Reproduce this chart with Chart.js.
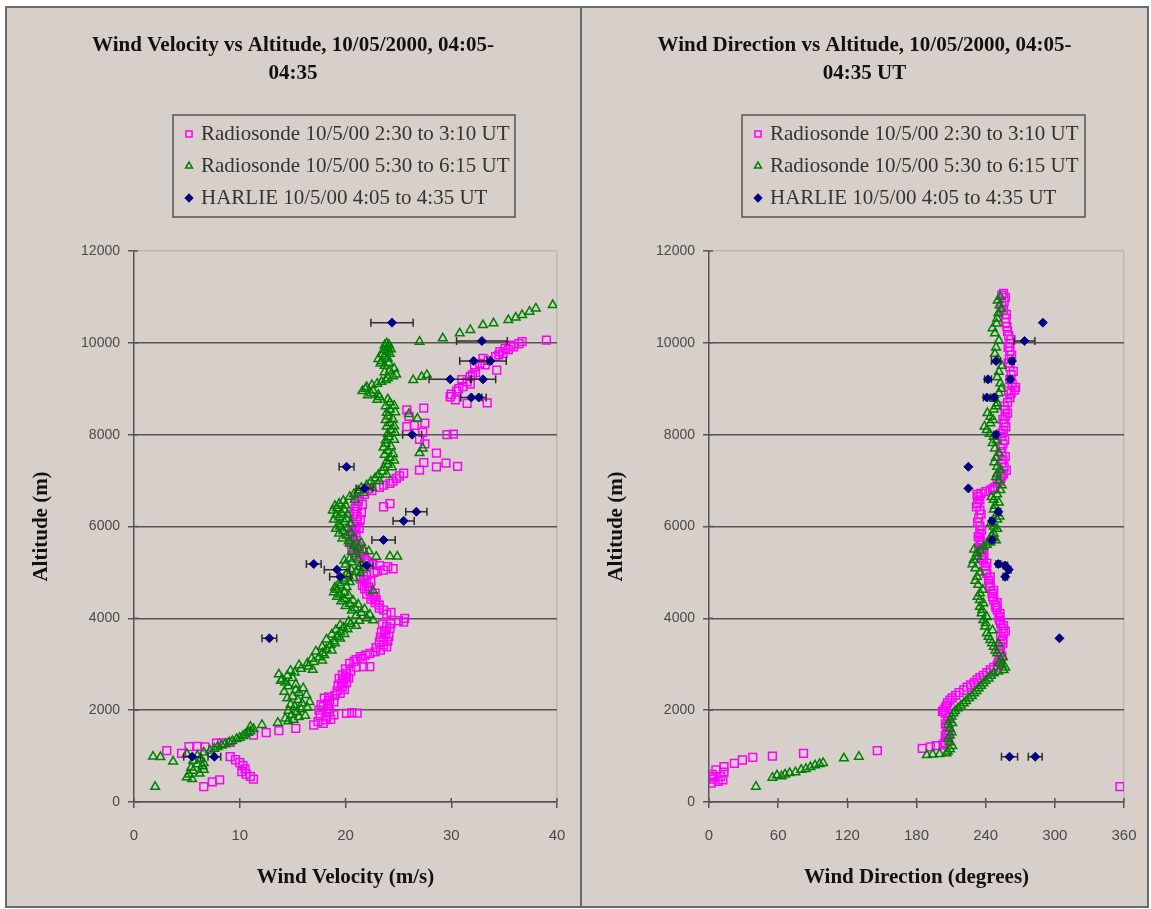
<!DOCTYPE html>
<html>
<head>
<meta charset="utf-8">
<script src="https://cdn.jsdelivr.net/npm/chart.js@4.4.0/dist/chart.umd.min.js"></script>
<style>
  body { margin: 0; background: #fff; width: 1151px; height: 909px; position: relative; overflow: hidden; }
  #frame { position: absolute; left: 5px; top: 6px; width: 1140px; height: 898px; border: 2px solid #6a6a6a; background: #d7d0ca; }
  #divider { position: absolute; left: 580px; top: 6px; width: 2px; height: 902px; background: #6a6a6a; }
  canvas { position: absolute; }
  #velChart { left: 7px; top: 8px; }
  #dirChart { left: 582px; top: 8px; }
</style>
</head>
<body>
<div id="frame"></div>
<div id="divider"></div>
<canvas id="velChart" width="572" height="897"></canvas>
<canvas id="dirChart" width="565" height="897"></canvas>
<script>
// Radiosonde 10/5/00 2:30 to 3:10 UT
const sondeAVelAlt = [333, 440, 480, 500, 560, 610, 660, 720, 790, 860, 920, 986, 1060, 1117, 1200, 1205, 1210, 1280, 1290, 1300,
  1459, 1510, 1553, 1604, 1677, 1713, 1790, 1850, 1930, 1935, 1960, 2076, 2150, 2221, 2290, 2367, 2500, 2580, 2657, 2730,
  2800, 2947, 2950, 3020, 3100, 3164, 3238, 3310, 3420, 3527, 3650, 3740, 3817, 3920, 4000, 4090, 4181, 4290, 4399, 4472,
  4600, 4680, 4763, 4840, 4908, 5050, 5080, 5125, 5180, 5250, 5350, 5420, 5488, 5600, 5730, 5851, 5930, 6000, 6100, 6214,
  6330, 6430, 6435, 6500, 6550, 6650, 6780, 6850, 6940, 7050, 7160, 7230, 7300, 7310, 7380, 7390, 7600, 7800, 7900, 8000,
  8010, 8050, 8173, 8200, 8250, 8400, 8537, 8580, 8683, 8690, 8826, 8950, 9045, 9150, 9262, 9350, 9408, 9480, 9553, 9620,
  9700, 9770, 9850, 9915, 9980, 10024, 10061,
  1750, 1800, 1880, 1900, 1945, 2000, 2030, 2120, 2180, 2260, 2320, 2420, 2450, 2540, 2600, 2690, 2700, 2770, 2850, 2900,
  2940, 3060, 3120, 3200, 3270, 3360, 3380, 3480, 3500, 3590, 3600, 3700, 3780, 3870, 3880, 3950, 4130, 4220, 4340, 4420,
  4530, 4550, 4640, 4720, 4800, 4860, 4950, 5000, 5030, 5150, 5210, 5300, 5380, 5450, 5530, 5560, 5650, 5700, 5790, 5800,
  5900, 5960, 6050, 6150, 6270, 6300, 6390, 6480, 6600, 6700, 6820, 6900, 6990, 7100,
  8760, 8880, 9000, 9100, 9200, 9300, 9520, 9660, 9740, 9810, 9880, 9950];
const sondeAVel = [6.6, 7.4, 8.1, 11.3, 11.0, 10.6, 10.2, 10.5, 10.3, 10.0, 9.6, 9.1, 4.5, 3.1, 6.7, 5.2, 6.0, 7.8, 8.3, 9.1,
  11.3, 12.5, 13.7, 15.3, 17.0, 17.9, 18.1, 18.2, 20.1, 21.1, 18.5, 17.9, 18.3, 18.5, 18.4, 19.5, 19.7, 19.6, 19.8, 20.0,
  20.1, 21.7, 22.3, 20.4, 21.0, 21.4, 22.3, 23.3, 23.6, 23.6, 23.8, 23.7, 23.9, 25.5, 25.6, 23.9, 23.6, 23.2, 22.9, 22.6,
  22.3, 22.2, 22.0, 21.8, 21.7, 23.6, 24.5, 24.0, 22.6, 22.0, 21.4, 21.3, 21.1, 20.9, 20.7, 20.7, 20.9, 21.0, 21.1, 21.1,
  21.0, 23.6, 21.1, 24.2, 21.2, 21.3, 22.5, 23.2, 24.2, 24.8, 25.5, 27.0, 28.6, 30.6, 29.5, 27.4, 28.6, 27.5, 27.0, 29.6,
  30.2, 27.3, 25.8, 26.5, 27.5, 26.0, 25.8, 27.4, 31.5, 33.4, 29.9, 30.5, 31.1, 31.5, 31.8, 32.3, 34.3, 32.2, 32.7, 33.5,
  34.2, 34.9, 35.4, 35.9, 36.4, 36.7, 39.0,
  17.4, 18.6, 17.6, 18.9, 20.6, 17.5, 18.4, 17.7, 18.9, 18.0, 19.0, 19.2, 19.9, 19.3, 20.1, 19.4, 20.3, 19.7, 20.5, 20.0,
  21.0, 20.8, 21.6, 21.9, 22.8, 22.9, 23.9, 23.2, 24.0, 23.3, 24.1, 23.4, 24.2, 23.5, 24.3, 25.0, 24.3, 23.2, 22.8, 22.4,
  22.0, 22.8, 21.8, 21.6, 22.4, 21.4, 22.0, 22.7, 23.0, 23.2, 22.2, 21.8, 20.9, 21.6, 20.6, 21.2, 20.5, 21.0, 20.4, 21.0,
  20.6, 21.3, 20.7, 21.4, 20.8, 21.5, 20.9, 21.6, 20.9, 21.8, 22.1, 23.6, 24.5, 25.1,
  30.4, 30.0, 30.7, 31.8, 31.0, 32.0, 33.2, 33.0, 34.5, 34.6, 35.1, 35.6];
const sondeADirAlt = [333, 410, 450, 480, 500, 550, 560, 600, 650, 700, 769, 842, 915, 973, 1000, 1060, 1117, 1168, 1200, 1230,
  1240, 1300, 1400, 1500, 1640, 1780, 1930, 2003, 2100, 2221, 2320, 2439, 2550, 2657, 2760, 2875, 2983, 3100, 3250, 3382,
  3530, 3673, 3780, 3890, 4030, 4181, 4290, 4399, 4545, 4690, 4830, 4980, 5130, 5270, 5380, 5488, 5600, 5706, 5850, 6000,
  6180, 6359, 6500, 6650, 6722, 6790, 6850, 6940, 7050, 7150, 7300, 7450, 7600, 7800, 7955, 8100, 8250, 8400, 8537, 8700,
  8900, 8972, 9100, 9300, 9480, 9650, 9820, 9990, 10150, 10350, 10530, 10714, 10900, 11078,
  1270, 1350, 1450, 1550, 1700, 1850, 1970, 2050, 2160, 2270, 2380, 2500, 2600, 2710, 2820, 2930, 3040, 3170, 3320, 3460,
  3600, 3720, 3840, 3960, 4100, 4240, 4340, 4470, 4610, 4760, 4900, 5050, 5200, 5330, 5430, 5540, 5650, 5780, 5920, 6090,
  6270, 6430, 6580, 6700, 6760, 6820, 6990, 7100, 7220, 7380, 7520, 7700, 7880, 8030, 8170, 8330, 8470, 8620, 8800, 8950,
  9030, 9200, 9380, 9560, 9730, 9900, 10070, 10250, 10440, 10620, 10800, 10990, 11040];
const sondeADir = [356.5, 2, 8, 12, 4, 2, 10, 3, 13, 6, 13, 22, 29, 38, 55, 82, 146, 185, 192, 197,
  203, 205, 206, 206.5, 206, 207, 205, 203.6, 206, 209, 214, 221, 227, 232.5, 238, 244, 250, 252, 252.7, 253,
  254.5, 255.5, 254, 253, 251.5, 250, 248.5, 247, 245.5, 244, 242.5, 241, 239.5, 238, 237, 236.5, 235.5, 235, 235, 235,
  234, 235, 233, 234, 236, 244, 248, 250, 253, 255.5, 256, 255, 254, 255, 254, 255.5, 256, 257, 257, 259,
  262, 265, 263, 262, 261, 260.5, 261, 261, 260, 258.5, 257, 255.5, 256, 255.5,
  204, 207.5, 205, 208, 205, 208, 202.5, 205, 207, 211, 217, 224, 230, 235, 241, 247, 251, 254, 251.5, 255,
  253, 257, 255.5, 252, 252.5, 249, 250, 246, 247, 243, 244, 240, 241, 236.5, 238.5, 234, 237, 233.5, 236.5, 233,
  236, 232, 235, 232.5, 240, 246, 252, 254, 258, 254, 257, 253, 256.5, 253.5, 257.5, 255, 259, 256, 261, 260,
  266, 261, 264, 259.5, 262.5, 259.5, 262, 259, 257.5, 258, 254, 257, 254];

// Radiosonde 10/5/00 5:30 to 6:15 UT
const sondeBVelAlt = [330, 500, 540, 600, 680, 700, 780, 850, 880, 900, 980, 990, 1010, 1050, 1120, 1200, 1260, 1330, 1400, 1470,
  1540, 1640, 1677, 1727, 1760, 1790, 1850, 1900, 1960, 2020, 2080, 2150, 2220, 2300, 2380, 2440, 2520, 2600, 2680, 2750,
  2820, 2900, 2950, 3050, 3150, 3240, 3330, 3420, 3500, 3600, 3700, 3800, 3880, 3950, 3960, 4000, 4120, 4220, 4320, 4420,
  4520, 4600, 4620, 4720, 4820, 4920, 5020, 5120, 5220, 5300, 5342, 5350, 5345, 5400, 5490, 5580, 5680, 5800, 5900, 6000,
  6100, 6200, 6300, 6400, 6500, 6650, 6780, 6900, 7050, 7200, 7350, 7500, 7600, 7650, 7700, 7800, 7950, 8100, 8250, 8350,
  8400, 8450, 8550, 8700, 8820, 8900, 9000, 9080, 9150, 9190, 9230, 9260, 9300, 9310, 9400, 9500, 9600, 9700, 9800, 9900,
  9990, 10024, 10098, 10207, 10280, 10388, 10425, 10496, 10550, 10605, 10677, 10750, 10823,
  1160, 1230, 1300, 1370, 1440, 1510, 1590, 620, 750, 820, 940, 1080,
  1820, 1880, 1990, 2050, 2120, 2180, 2260, 2330, 2400, 2480, 2560, 2640, 2700, 2780, 2860, 2880, 2980, 3020, 3080, 3120,
  3200, 3280, 3300, 3380, 3460, 3540, 3560, 3650, 3660, 3750, 3760, 3850, 3840, 3930,
  4060, 4080, 4170, 4200, 4270, 4300, 4370, 4390, 4470, 4500, 4570, 4560, 4670, 4680, 4770, 4790, 4870, 4880, 4970, 4980,
  5070, 5090, 5170, 5190, 5260, 5280, 5450, 5460, 5540, 5630, 5640, 5740, 5750, 5850, 5860, 5950, 5960, 6050, 6060, 6150,
  6160, 6250, 6260, 6350, 6360, 6450, 6460, 6560, 6580, 6710, 6730, 6840, 6850, 6980, 6990, 7120, 7130, 7280, 7290, 7420,
  7440, 7560, 7580, 7720, 7740, 7880, 7890, 8020, 8040, 8180, 8190, 8320, 8330, 8480, 8490, 8620, 8630, 8760, 8770, 8860,
  8870, 8950, 8960, 9040, 9110, 9190, 9270, 9360, 9440, 9550, 9560, 9650, 9660, 9750, 9760, 9850, 9860, 9950, 9960];
const sondeBVel = [2.0, 5.5, 5.0, 5.2, 5.6, 6.6, 6.5, 6.6, 3.7, 5.6, 2.5, 1.8, 6.0, 5.0, 7.2, 7.9, 8.6, 9.3, 10.0, 10.5,
  11.0, 11.0, 12.1, 13.6, 14.6, 15.1, 15.6, 14.9, 15.4, 15.8, 15.2, 15.9, 15.5, 15.0, 15.6, 15.3, 14.6, 14.3, 14.0, 14.5,
  15.2, 15.8, 16.5, 17.0, 17.5, 17.8, 18.2, 18.6, 18.9, 19.2, 19.5, 19.8, 20.5, 21.3, 22.6, 22.0, 21.5, 20.9, 20.4, 19.9,
  19.5, 22.6, 19.2, 19.5, 19.9, 20.3, 21.0, 21.3, 20.6, 20.4, 22.9, 24.2, 24.9, 21.0, 21.7, 20.8, 20.3, 20.1, 19.8, 19.5,
  19.9, 19.4, 19.6, 19.2, 19.4, 20.4, 21.2, 22.0, 22.8, 23.5, 24.0, 24.2, 27.0, 24.0, 27.3, 23.8, 24.1, 24.3, 24.2, 26.8,
  24.0, 26.0, 24.2, 24.2, 23.2, 22.4, 21.9, 22.5, 23.4, 26.4, 24.0, 27.2, 27.7, 24.8, 24.2, 23.7, 23.4, 23.7, 23.9, 24.0,
  23.9, 27.0, 29.2, 30.8, 31.8, 33.0, 34.0, 35.4, 36.1, 36.7, 37.4, 38.0, 39.6,
  7.6, 8.3, 9.0, 9.7, 10.3, 10.8, 11.3, 6.2, 5.4, 6.0, 6.3, 6.6,
  14.3, 16.2, 14.6, 16.4, 14.8, 16.6, 14.5, 16.3, 14.2, 16.0, 15.3, 13.9, 15.0, 13.7, 14.8, 16.9, 15.6, 16.4, 17.8, 16.8,
  18.0, 17.2, 18.7, 17.8, 19.0, 18.2, 19.5, 18.7, 19.9, 19.1, 20.2, 19.5, 21.0, 20.3,
  21.0, 22.3, 20.6, 21.8, 20.0, 21.2, 19.6, 20.7, 19.2, 20.3, 18.9, 19.9, 19.0, 20.1, 19.4, 20.4, 19.8, 20.8, 20.1, 21.4,
  20.5, 21.8, 20.0, 21.5, 19.9, 21.2, 20.6, 22.2, 21.2, 20.4, 21.5, 19.7, 20.8, 19.4, 20.5, 19.1, 20.2, 19.4, 20.5, 18.9,
  20.1, 19.1, 20.2, 18.8, 19.9, 19.0, 20.0, 19.8, 20.9, 20.8, 21.7, 21.5, 22.5, 22.4, 23.2, 23.1, 23.9, 23.6, 24.4, 23.9,
  24.6, 23.7, 24.5, 23.6, 24.3, 23.8, 24.6, 24.0, 24.7, 23.9, 24.6, 23.8, 24.5, 23.9, 24.7, 23.8, 24.6, 23.0, 24.0, 22.1,
  23.1, 21.6, 22.6, 22.0, 23.0, 23.8, 24.5, 23.7, 24.6, 23.3, 24.1, 23.1, 24.0, 23.5, 24.2, 23.6, 24.3, 23.7, 24.1];
const sondeBDirAlt = [333, 530, 560, 580, 600, 630, 650, 700, 720, 760, 800, 830, 850, 951, 986, 1023, 1035, 1045, 1060, 1150,
  1300, 1450, 1600, 1786, 1860, 1931, 2040, 2149, 2260, 2367, 2475, 2584, 2690, 2802, 2875, 2980, 3092, 3240, 3382, 3530,
  3673, 3820, 3963, 4110, 4254, 4400, 4545, 4730, 4908, 5090, 5270, 5415, 5560, 5650, 5750, 5850, 6000, 6150, 6290, 6450,
  6580, 6700, 6795, 7000, 7150, 7302, 7500, 7700, 7955, 8101, 8250, 8392, 8550, 8683, 8900, 9118, 9370, 9626, 9900, 10207,
  10420, 10642, 10820, 11004,
  1100, 1220, 1380, 1520, 1690, 1720, 1980, 2100, 2200, 2310, 2420, 2530, 2640, 2750, 2840, 2930, 3030, 3160, 3300, 3450,
  3460, 3600, 3740, 3900, 4030, 4180, 4330, 4470, 4620, 4820, 5000, 5180, 5340, 5500, 5480, 5600, 5700, 5800, 5950, 6070,
  6220, 6370, 6520, 6640, 6900, 7080, 7230, 7400, 7600, 7820, 7880, 8020, 8180, 8320, 8470, 8620, 8780, 9000, 9250, 9500,
  9760, 10050, 10320, 10530, 10730, 10920];
const sondeBDir = [40.7, 55, 63, 59, 66, 70, 75, 80, 84, 88, 92, 96, 99, 117, 130, 189, 194, 200, 206, 209,
  209, 209, 209, 209, 210.5, 212, 216, 221, 225.5, 230, 234, 238, 242.5, 247, 255.5, 254, 253, 250, 247, 244,
  241, 239.5, 238, 236.5, 235, 235, 235, 233.5, 232.5, 231, 229.6, 232.5, 238, 244, 247, 247, 247, 250, 250, 248,
  247, 250, 252.7, 251.5, 250, 250, 249, 248, 247, 241, 244, 244, 247, 250, 251.5, 252.7, 251.5, 250, 249, 248,
  249.5, 251, 252, 252.7,
  207, 211, 207.5, 210.5, 207.5, 211, 213.5, 218.5, 223, 228, 232, 236, 240, 244.5, 251, 257, 251.5, 255, 248.5, 251,
  245.5, 242.5, 246, 240, 241, 237, 238, 233, 237.5, 231, 235, 228.5, 233, 230, 235, 241, 249, 245, 250, 244.5,
  252, 247, 251.5, 245, 254, 249, 253, 247.5, 251.5, 246, 249.5, 243.5, 239, 246.5, 241.5, 249, 247.5, 253.5, 250, 254,
  248, 251.5, 246, 250, 253.5, 250.5];

// HARLIE 10/5/00 4:05 to 4:35 UT
const harlieAlt = [10440, 10040, 9604, 9604, 9205, 9205, 8810, 8810, 8000, 7300, 6830, 6322, 6122, 5706, 5183, 5150, 5060, 4906, 3565, 986, 986];
const harlieVel = [24.4, 32.9, 32.1, 33.7, 29.9, 33.0, 31.9, 32.6, 26.3, 20.1, 21.8, 26.7, 25.5, 23.6, 17.0, 22.0, 19.2, 19.5, 12.8, 5.5, 7.6];
const harlieVelErr = [2.0, 2.4, 1.3, 1.5, 2.0, 1.2, 1.0, 0.7, 0.9, 0.7, 0.8, 1.0, 1.0, 1.1, 0.7, 0.6, 1.2, 1.0, 0.7, 0.8, 0.6];
const harlieDir = [289.6, 273.7, 249, 262.8, 242, 261.3, 241, 247.5, 249, 225, 225, 251, 245.5, 245.5, 251, 257, 260, 257, 304, 260.7, 283];
const harlieDirErr = [0, 9, 4, 2, 3, 2, 3, 2, 2, 0, 0, 2, 2, 2, 2, 2, 2, 2, 0, 7, 6];

const seriesLabels = ['Radiosonde 10/5/00 2:30 to 3:10 UT', 'Radiosonde 10/5/00 5:30 to 6:15 UT', 'HARLIE 10/5/00 4:05 to 4:35 UT'];
const altTicks = [0, 2000, 4000, 6000, 8000, 10000, 12000];

const SERIF = '"Liberation Serif", "Times New Roman", serif';
const SANS = '"Liberation Sans", Arial, sans-serif';

function toPoints(xs, alts) {
  return alts.map((a, i) => ({ x: xs[i], y: a }));
}

// keep the plot area where the layout puts it
function noOverhang(s) {
  s.paddingLeft = 0; s.paddingRight = 0; s.paddingTop = 0; s.paddingBottom = 0;
}

// title, legend box and error bars
const decor = {
  id: 'decor',
  beforeDatasetDraw(chart, args) {
    const ds = chart.data.datasets[args.index];
    if (!ds.xErr) return;
    const ctx = chart.ctx;
    const xs = chart.scales.x;
    ctx.save();
    ctx.strokeStyle = '#2e2e2e';
    ctx.lineWidth = 1.5;
    args.meta.data.forEach((pt, j) => {
      const e = ds.xErr[j];
      if (!e) return;
      const v = ds.data[j].x;
      const x0 = xs.getPixelForValue(v - e);
      const x1 = xs.getPixelForValue(v + e);
      const y = pt.y;
      ctx.beginPath();
      ctx.moveTo(x0, y); ctx.lineTo(x1, y);
      ctx.moveTo(x0, y - 4); ctx.lineTo(x0, y + 4);
      ctx.moveTo(x1, y - 4); ctx.lineTo(x1, y + 4);
      ctx.stroke();
    });
    ctx.restore();
  },
  afterDraw(chart, args, opts) {
    const ctx = chart.ctx;
    const area = chart.chartArea;
    ctx.save();
    // tick marks crossing into the plot
    ctx.strokeStyle = '#555';
    ctx.lineWidth = 1.5;
    ctx.beginPath();
    chart.scales.x.ticks.forEach(t => {
      const x = chart.scales.x.getPixelForValue(t.value);
      ctx.moveTo(x, area.bottom); ctx.lineTo(x, area.bottom - 4);
    });
    chart.scales.y.ticks.forEach(t => {
      const y = chart.scales.y.getPixelForValue(t.value);
      ctx.moveTo(area.left, y); ctx.lineTo(area.left + 4, y);
    });
    ctx.stroke();
    // chart title
    ctx.fillStyle = '#111';
    ctx.font = 'bold 21px ' + SERIF;
    ctx.textAlign = 'center';
    ctx.textBaseline = 'middle';
    opts.title.forEach((line, i) => ctx.fillText(line, chart.width / 2, 38 + i * 28));
    // legend box
    const b = opts.box;
    ctx.strokeStyle = '#555';
    ctx.lineWidth = 1.5;
    ctx.strokeRect(b.x, b.y, b.w, b.h);
    ctx.font = '21px ' + SERIF;
    ctx.textAlign = 'left';
    chart.data.datasets.forEach((ds, i) => {
      const y = b.y + 19 + i * 32;
      ctx.fillStyle = '#333';
      ctx.fillText(ds.label, b.x + 28, y);
      ctx.fillStyle = ds.backgroundColor;
      ctx.strokeStyle = ds.borderColor;
      ctx.lineWidth = 1.5;
      Chart.helpers.drawPoint(ctx, { pointStyle: ds.pointStyle, radius: ds.pointRadius * 0.8, borderWidth: 1.5, rotation: 0 }, b.x + 16, y);
    });
    ctx.restore();
  }
};

function makeChart(id, xMax, xStep, xTitle, title, box, padRight, sets) {
  return new Chart(document.getElementById(id), {
    type: 'scatter',
    data: {
      datasets: [
        { label: seriesLabels[0], data: sets[0], pointStyle: 'rect', pointRadius: 5.5, borderWidth: 1.5,
          borderColor: '#ff00ff', backgroundColor: 'rgba(0,0,0,0)', order: 3 },
        { label: seriesLabels[1], data: sets[1], pointStyle: 'triangle', pointRadius: 5, borderWidth: 1.5,
          borderColor: '#008000', backgroundColor: 'rgba(0,0,0,0)', order: 2 },
        { label: seriesLabels[2], data: sets[2], xErr: sets[3], pointStyle: 'rectRot', pointRadius: 4.5, borderWidth: 1,
          borderColor: '#000080', backgroundColor: '#000080', order: 1 }
      ]
    },
    options: {
      responsive: false,
      animation: false,
      events: [],
      layout: { padding: { top: 243, right: padRight, bottom: 0, left: 0 } },
      plugins: {
        legend: { display: false },
        tooltip: { enabled: false },
        decor: { title: title, box: box }
      },
      scales: {
        x: {
          type: 'linear', min: 0, max: xMax,
          afterFit: (s) => { s.height = 103; noOverhang(s); },
          ticks: { stepSize: xStep, color: '#4a4a4a', padding: 19, callback: (v) => String(v),
            font: { family: '"Liberation Sans Narrow", ' + SANS, size: 15 } },
          grid: { drawOnChartArea: true, tickLength: 6, tickColor: '#555', lineWidth: 1.5,
            color: (c) => c.tick && c.tick.value === xMax ? '#bdb7b1' : 'rgba(0,0,0,0)' },
          border: { display: true, color: '#555', width: 1.5 },
          title: { display: true, text: xTitle, color: '#111', padding: { top: 0, bottom: 15 },
            font: { family: SERIF, size: 21, weight: 'bold' } }
        },
        y: {
          type: 'linear', min: 0, max: 12000,
          afterFit: (s) => { s.width = 127; noOverhang(s); },
          afterBuildTicks: (s) => { s.ticks = altTicks.map(v => ({ value: v })); },
          ticks: { color: '#4a4a4a', padding: 8, callback: (v) => String(v), font: { family: SANS, size: 14 } },
          grid: { tickLength: 6, tickColor: '#555', lineWidth: 1.5,
            color: (c) => c.tick && c.tick.value === 12000 ? '#bdb7b1' : '#555' },
          border: { display: true, color: '#555', width: 1.5 },
          title: { display: true, text: 'Altitude (m)', color: '#111', padding: { top: 22, bottom: 0 },
            font: { family: SERIF, size: 21, weight: 'bold' } }
        }
      }
    },
    plugins: [decor]
  });
}

makeChart('velChart', 40, 10, 'Wind Velocity (m/s)',
  ['Wind Velocity vs Altitude, 10/05/2000, 04:05-', '04:35'],
  { x: 166, y: 107, w: 342, h: 102 }, 22,
  [toPoints(sondeAVel, sondeAVelAlt), toPoints(sondeBVel, sondeBVelAlt), toPoints(harlieVel, harlieAlt), harlieVelErr]);

makeChart('dirChart', 360, 60, 'Wind Direction (degrees)',
  ['Wind Direction vs Altitude, 10/05/2000, 04:05-', '04:35 UT'],
  { x: 160, y: 107, w: 343, h: 102 }, 23,
  [toPoints(sondeADir, sondeADirAlt), toPoints(sondeBDir, sondeBDirAlt), toPoints(harlieDir, harlieAlt), harlieDirErr]);
</script>
</body>
</html>
